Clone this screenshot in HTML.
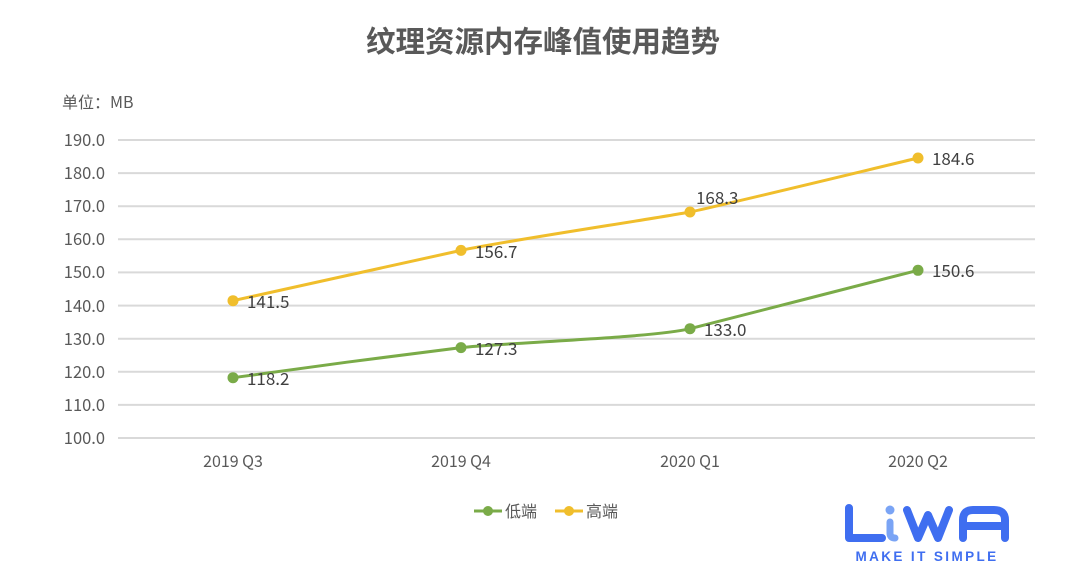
<!DOCTYPE html>
<html><head><meta charset="utf-8"><style>
body{margin:0;background:#fff;}
svg{display:block;font-family:"Liberation Sans","Noto Sans CJK SC",sans-serif;}
</style></head><body>
<svg width="1080" height="586" viewBox="0 0 1080 586" xmlns="http://www.w3.org/2000/svg">
<rect width="1080" height="586" fill="#fff"/>
<text x="543" y="52" text-anchor="middle" font-size="29.5" font-weight="bold" fill="#595959" font-family="'Noto Sans CJK SC',sans-serif">纹理资源内存峰值使用趋势</text>
<text x="62" y="108" font-size="16" fill="#595959" font-family="'Noto Sans CJK SC',sans-serif">单位：MB</text>
<g stroke="#d9d9d9" stroke-width="2">
<line x1="118" y1="140" x2="1035" y2="140"/>
<line x1="118" y1="173.1" x2="1035" y2="173.1"/>
<line x1="118" y1="206.2" x2="1035" y2="206.2"/>
<line x1="118" y1="239.3" x2="1035" y2="239.3"/>
<line x1="118" y1="272.4" x2="1035" y2="272.4"/>
<line x1="118" y1="305.6" x2="1035" y2="305.6"/>
<line x1="118" y1="338.7" x2="1035" y2="338.7"/>
<line x1="118" y1="371.8" x2="1035" y2="371.8"/>
<line x1="118" y1="404.9" x2="1035" y2="404.9"/>
<line x1="118" y1="438" x2="1035" y2="438"/>
</g>
<g font-size="16.5" fill="#595959" text-anchor="end" font-family="'Noto Sans CJK SC',sans-serif">
<text x="105" y="146">190.0</text>
<text x="105" y="179">180.0</text>
<text x="105" y="212">170.0</text>
<text x="105" y="245">160.0</text>
<text x="105" y="278">150.0</text>
<text x="105" y="312">140.0</text>
<text x="105" y="345">130.0</text>
<text x="105" y="378">120.0</text>
<text x="105" y="411">110.0</text>
<text x="105" y="444">100.0</text>
</g>
<g font-size="16" fill="#595959" text-anchor="middle" font-family="'Noto Sans CJK SC',sans-serif">
<text x="233" y="467">2019 Q3</text>
<text x="461" y="467">2019 Q4</text>
<text x="690" y="467">2020 Q1</text>
<text x="918" y="467">2020 Q2</text>
</g>
<path d="M233,300.7 C271,292 423,259 461,250.4 C499,242 652,219 690,212 C728,204 880,167 918,158" fill="none" stroke="#f0be2c" stroke-width="3"/>
<path d="M233,377.7 C271,372 423,352 461,347.6 C499,343 652,338 690,328.7 C728,319 880,280 918,270.3" fill="none" stroke="#7aab48" stroke-width="3"/>
<g fill="#f0be2c"><circle cx="233" cy="300.7" r="5.5"/><circle cx="461" cy="250.4" r="5.5"/><circle cx="690" cy="212" r="5.5"/><circle cx="918" cy="158" r="5.5"/></g>
<g fill="#7aab48"><circle cx="233" cy="377.7" r="5.5"/><circle cx="461" cy="347.6" r="5.5"/><circle cx="690" cy="328.7" r="5.5"/><circle cx="918" cy="270.3" r="5.5"/></g>
<g font-size="17" fill="#404040" font-family="'Noto Sans CJK SC',sans-serif">
<text x="247" y="308">141.5</text>
<text x="475" y="258">156.7</text>
<text x="696" y="204">168.3</text>
<text x="932" y="165">184.6</text>
<text x="247" y="385">118.2</text>
<text x="475" y="355">127.3</text>
<text x="704" y="336">133.0</text>
<text x="932" y="277">150.6</text>
</g>
<line x1="474" y1="511" x2="502" y2="511" stroke="#7aab48" stroke-width="3"/><circle cx="488" cy="511" r="5" fill="#7aab48"/>
<text x="505" y="517" font-size="16" fill="#595959" font-family="'Noto Sans CJK SC',sans-serif">低端</text>
<line x1="555" y1="511" x2="583" y2="511" stroke="#f0be2c" stroke-width="3"/><circle cx="569" cy="511" r="5" fill="#f0be2c"/>
<text x="586" y="517" font-size="16" fill="#595959" font-family="'Noto Sans CJK SC',sans-serif">高端</text>
<g fill="none" stroke="#3f6ef0" stroke-width="8" stroke-linecap="round" stroke-linejoin="round">
<path d="M849,508 V538 H882"/>
<path d="M907,510 L918,538 L928,515 L938,538 L949,510" />
<path d="M963,538 V520 Q963,510 973,510 H994 Q1005,510 1005,520 V538 M963,526 H1005"/>
</g>
<path d="M890,522 V533 Q890,538 895,538" fill="none" stroke="#7aa4f5" stroke-width="7" stroke-linecap="round"/>
<circle cx="890" cy="510" r="4.5" fill="#7aa4f5"/>
<text x="927" y="561" text-anchor="middle" font-size="13.5" font-weight="bold" fill="#3f6ef0" letter-spacing="2.4">MAKE IT SIMPLE</text>
</svg>
</body></html>
